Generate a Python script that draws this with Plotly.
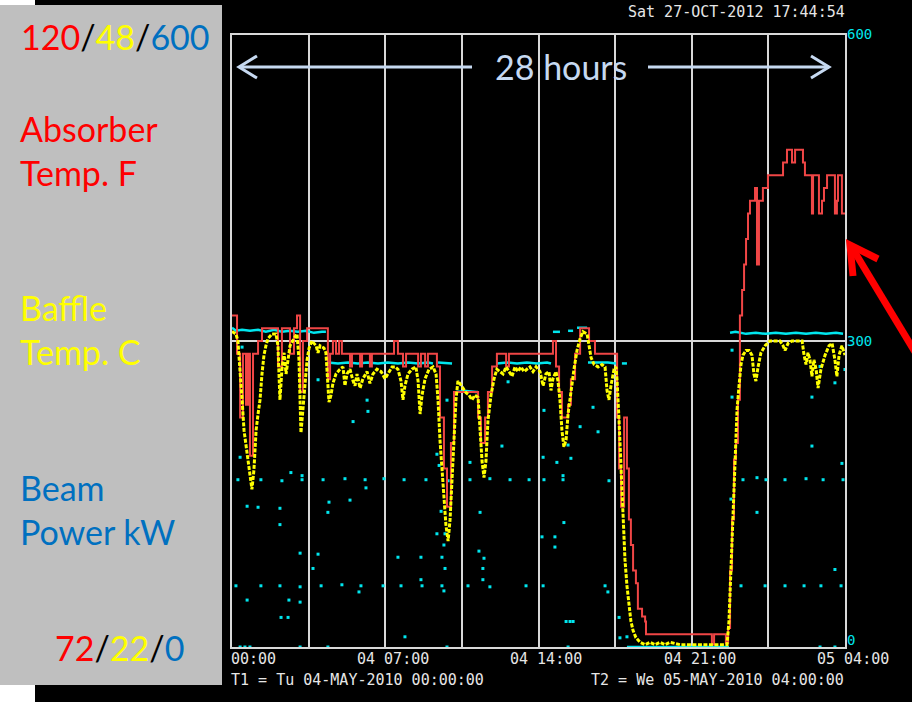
import plotly.graph_objects as go
import pandas as pd

# ---------------- data ----------------
T1 = pd.Timestamp("2010-05-04 00:00:00")
T2 = pd.Timestamp("2010-05-05 04:00:00")

# Absorber temperature, degF (step trace), hours after T1
absorber_hours = [0.00, 0.23, 0.37, 0.50, 0.64, 0.73, 0.82, 0.96, 1.19, 1.37, 2.10, 2.28, 2.65, 2.83,
                  2.97, 3.11, 3.24, 3.43, 4.38, 4.48, 4.61, 4.75, 4.89, 5.02, 5.39, 5.48, 5.85, 5.94,
                  6.30, 6.39, 7.40, 7.58, 7.81, 7.95, 8.50, 8.63, 8.82, 8.95, 9.36, 9.50, 9.68, 9.82,
                  10.00, 10.14, 11.24, 11.37, 11.56, 11.69, 11.88, 12.10, 12.52, 12.65, 14.66, 14.80,
                  14.94, 15.07, 15.35, 15.48, 15.67, 15.90, 16.31, 16.58, 17.59, 17.68, 17.77, 17.91,
                  18.04, 18.13, 18.22, 18.32, 18.45, 18.54, 18.73, 18.87, 18.91, 21.92, 22.02, 22.56,
                  22.66, 22.75, 22.84, 22.93, 23.02, 23.11, 23.20, 23.30, 23.39, 23.48, 23.57, 23.66,
                  23.89, 23.98, 24.07, 24.25, 24.48, 25.17, 25.35, 25.58, 25.72, 26.08, 26.17, 26.49,
                  26.54, 26.81, 26.95, 27.04, 27.18, 27.54, 27.63, 27.68, 27.86, 28.00]
absorber_temp_f = [98, 95, 90, 95, 91, 95, 87, 95, 96, 97, 94, 97, 95, 97,
                   98, 92, 96, 97, 93, 95, 96, 95, 96, 95, 94, 95, 94, 95,
                   94, 95, 96, 95, 94, 95, 94, 95, 94, 95, 94, 90, 86, 83,
                   88, 92, 90, 88, 90, 92, 94, 95, 94, 95, 96, 94,
                   92, 90, 91, 93, 95, 97, 96, 95, 90, 86, 83, 90,
                   86, 82, 80, 78, 77, 75, 74.4, 74, 73, 72.2, 73, 72.3,
                   73.5, 78, 82, 86.7, 88, 91.4, 98, 100, 102, 104, 106, 107,
                   108, 102, 107, 108, 109, 110, 111, 110, 111, 110, 109, 106,
                   109, 106, 107, 108, 109, 106, 107, 109, 106, 106]

# Baffle temperature, degC
baffle_hours = [0.00, 0.18, 0.27, 0.37, 0.46, 0.55, 0.64, 0.73, 0.82, 0.91, 1.00, 1.10, 1.19, 1.28,
                1.37, 1.46, 1.55, 1.64, 1.83, 2.01, 2.10, 2.15, 2.19, 2.28, 2.38, 2.47, 2.56, 2.65,
                2.83, 2.97, 3.06, 3.11, 3.15, 3.24, 3.33, 3.43, 3.52, 3.65, 3.84, 3.93, 4.02, 4.20,
                4.29, 4.38, 4.43, 4.52, 4.61, 4.75, 4.93, 5.07, 5.16, 5.25, 5.39, 5.53, 5.62, 5.71,
                5.85, 5.98, 6.17, 6.30, 6.44, 6.62, 6.81, 6.99, 7.17, 7.31, 7.45, 7.58, 7.72, 7.81,
                7.90, 8.04, 8.22, 8.40, 8.50, 8.59, 8.68, 8.82, 9.00, 9.18, 9.32, 9.41, 9.50, 9.59,
                9.68, 9.77, 9.87, 9.96, 10.05, 10.14, 10.23, 10.32, 10.41, 10.55, 10.69, 10.83, 10.96,
                11.10, 11.24, 11.33, 11.42, 11.51, 11.60, 11.69, 11.83, 11.97, 12.10, 12.24, 12.38,
                12.52, 12.65, 12.79, 12.93, 13.06, 13.20, 13.34, 13.47, 13.61, 13.75, 13.89, 14.07,
                14.21, 14.34, 14.48, 14.57, 14.66, 14.80, 14.89, 14.98, 15.07, 15.16, 15.26, 15.35,
                15.48, 15.62, 15.76, 15.90, 16.03, 16.22, 16.31, 16.40, 16.54, 16.72, 16.90, 17.04,
                17.13, 17.22, 17.31, 17.45, 17.54, 17.59, 17.68, 17.77, 17.86, 17.95, 18.04, 18.13,
                18.22, 18.32, 18.45, 18.64, 18.87, 19.09, 19.32, 19.55, 19.78, 20.01, 20.46, 20.92,
                21.38, 21.83, 22.29, 22.61, 22.70, 22.79, 22.88, 22.98, 23.07, 23.16, 23.25, 23.34,
                23.48, 23.62, 23.75, 23.84, 23.93, 24.03, 24.16, 24.35, 24.57, 24.80, 25.03, 25.17,
                25.26, 25.40, 25.58, 25.81, 26.04, 26.13, 26.22, 26.31, 26.40, 26.49, 26.58, 26.68,
                26.77, 26.90, 27.09, 27.27, 27.41, 27.54, 27.63, 27.73, 27.86, 28.00]
baffle_temp_c = [35.4, 35.3, 35.0, 33.8, 32.5, 31.2, 30.6, 29.9, 29.3, 28.7, 29.5, 31.2, 31.9, 32.5,
                 33.6, 34.4, 34.8, 35.1, 35.3, 35.3, 34.8, 33.3, 32.5, 33.8, 34.5, 33.6, 34.2, 34.8,
                 35.1, 35.3, 34.2, 32.5, 31.1, 32.1, 33.3, 34.2, 34.7, 35.0, 34.8, 34.5, 34.8, 34.7,
                 34.5, 33.3, 32.4, 32.7, 33.2, 33.6, 33.8, 33.9, 33.1, 33.6, 33.8, 33.3, 33.1, 33.6,
                 33.0, 33.4, 33.7, 33.2, 33.6, 33.8, 33.7, 33.4, 33.7, 33.9, 33.9, 33.8, 33.3, 32.5,
                 33.1, 33.6, 33.8, 33.9, 33.3, 31.9, 32.7, 33.4, 33.8, 33.9, 33.6, 32.5, 30.8, 29.5,
                 28.2, 27.2, 26.5, 27.4, 29.1, 31.2, 32.5, 33.3, 33.2, 33.0, 32.8, 32.7, 32.5,
                 32.7, 32.6, 31.2, 29.9, 29.2, 29.9, 31.6, 32.7, 33.4, 33.8, 33.7, 33.6,
                 33.9, 33.7, 33.5, 33.9, 33.7, 33.9, 33.7, 33.8, 33.9, 33.7, 33.9, 33.7,
                 33.1, 33.6, 33.7, 32.9, 33.4, 33.7, 33.3, 32.5, 31.2, 30.5, 30.8, 31.9,
                 32.9, 33.8, 34.6, 35.1, 35.4, 35.3, 34.8, 34.3, 34.0, 33.9, 34.0, 33.9,
                 32.9, 32.5, 33.1, 33.8, 33.9, 33.3, 31.6, 29.5, 27.4, 25.7, 24.6, 23.8,
                 23.1, 22.7, 22.4, 22.2, 22.1, 22.2, 22.1, 22.2, 22.1, 22.2, 22.1, 22.1,
                 22.1, 22.1, 22.1, 22.1, 23.1, 25.3, 28.2, 30.4, 32.1, 33.1, 34.0, 34.4,
                 34.6, 34.6, 34.4, 33.6, 33.3, 33.9, 34.5, 34.8, 35.0, 35.0, 35.0, 34.8,
                 34.6, 34.9, 35.0, 35.0, 35.0, 34.4, 34.0, 34.5, 34.2, 33.5, 34.2, 33.8,
                 33.0, 33.8, 34.4, 34.8, 34.9, 34.2, 33.5, 34.4, 34.8, 34.4]

# Beam power, kW (main readings; None = gap between runs of samples)
beam_hours = [0.00, 0.18, 0.46, 0.82, 1.19, 1.55, 1.92, 2.28, 2.65, 3.01, 3.38, 3.74, 4.11, 4.29, None,
              4.38, 4.84, 5.30, 5.75, 6.21, 6.67, 7.12, 7.58, 8.04, 8.50, 8.95, 9.18, None,
              9.41, 10.05, None,
              10.23, 10.69, 11.15, 11.24, None,
              12.10, 12.56, 13.02, 13.47, 13.93, 14.39, 14.57, None,
              14.66, 14.98, None, 15.35, 15.58, None, 15.76, 16.22, None,
              16.26, 16.72, 17.17, 17.54, None, 17.81, 18.04, None,
              18.04, 22.70, None,
              22.75, 23.00, 23.48, 23.93, 24.39, 24.84, 25.30, 25.76, 26.22, 26.67, 27.13, 27.59, 27.91]
beam_power_kw = [313, 310, 311, 310, 311, 309, 311, 309, 310, 309, 310, 308, 309, 309, None,
                 279, 278, 279, 278, 279, 278, 279, 278, 279, 278, 279, 278, None,
                 279, 278, None,
                 250, 251, 250, 250, None,
                 278, 279, 278, 279, 278, 279, 278, None,
                 309, 309, None, 310, 310, None, 313, 313, None,
                 279, 279, 279, 278, None, 278, 278, None,
                 0, 0, None,
                 308, 309, 307, 308, 307, 308, 307, 308, 307, 308, 307, 308, 307]

# Beam power, kW: scattered stray readings
stray_hours = [0.27, 1.32, 2.28, 3.20, 4.16, 5.16, 6.08, 6.94, 7.86, 8.86, 9.87, 10.87, 11.78, 12.70,
               13.57, 14.25, 15.12, 17.22, 23.34, 24.39, 25.26, 26.22, 27.00, 27.91,
               0.18, 1.32, 2.19, 3.11, 4.07, 5.02, 5.89, 6.90, 7.72, 8.68, 9.59, 10.78, 11.78, 13.43,
               14.21, 17.04, 23.25, 24.35, 25.26, 26.13, 26.90, 27.82,
               0.46, 3.93, 6.17, 6.21, 5.53, 0.37, 2.69, 3.20, 0.69, 1.19, 2.19, 2.19, 3.11, 0.69,
               2.60, 3.11, 2.24, 2.56, 4.43, 5.39, 4.38, 3.93, 3.70, 5.80, 6.12, 9.36, 9.46, 9.55,
               9.36, 9.73, 9.68, 7.58, 8.63, 9.59, 9.73, 8.63, 9.68, 7.90, 10.87, 11.33, 11.28, 11.51,
               11.46, 11.46, 12.33, 12.61, 9.82, 14.25, 16.49, 15.90, 16.72, 15.35, 14.21, 14.84, 15.12,
               15.48, 15.16, 14.16, 14.75, 14.75, 17.17, 17.68, 17.72, 18.04, 22.79, 23.98, 23.98, 27.54,
               26.49, 27.86, 22.84, 22.84, 26.49, 26.86, 27.54, 28.00, 15.26, 15.44, 15.58,
               0.37, 0.59, 0.82, 3.11, 4.38, 9.82, 15.35, 26.86, 27.54]
stray_kw = [164, 164, 163, 164, 164, 165, 164, 165, 164, 164, 163, 164, 165, 164,
            164, 164, 164, 163, 164, 164, 164, 165, 164, 164,
            60, 60, 60, 59, 60, 61, 60, 60, 60, 60, 60, 60, 59, 60,
            60, 60, 60, 60, 60, 60, 60, 60,
            294, 262, 242, 231, 221, 186, 171, 168, 138, 137, 136, 120, 92, 46,
            46, 44, 29, 29, 142, 144, 132, 91, 77, 54, 156, 189, 178, 133,
            111, 111, 100, 88, 88, 88, 77, 66, 55, 10, 181, 132, 94, 87,
            77, 66, 197, 260, 242, 232, 235, 216, 211, 198, 186, 181, 168,
            185, 122, 108, 108, 98, 54, 29, 9, 10, 145, 166, 132, 76,
            197, 180, 291, 245, 245, 275, 259, 272, 25, 25, 25,
            0, 0, 0, 0, 0, 0, 0, 0, 0]

x_tick_labels = ["00:00", "04 07:00", "04 14:00", "04 21:00", "05 04:00"]
x_tick_hours = [0, 7, 14, 21, 28]
power_ticks = [0, 300, 600]


def to_time(hours):
    return [None if h is None else T1 + pd.Timedelta(hours=h) for h in hours]


# ---------------- layout geometry (pixels -> paper) ----------------
W, H = 912, 702
L, R, T, B = 232, 845, 35, 647


def px(x):
    return (x - L) / (R - L)


def py(y):
    return (B - y) / (B - T)


RED = "#f04646"
YEL = "#ffff00"
CYAN = "#00e6ee"
LBLUE = "#c6d9f1"
WHITE_TXT = "#e6e6e6"
MONO = "DejaVu Sans Mono"
SANS = "Lato"

fig = go.Figure()

fig.add_trace(go.Scatter(x=to_time(absorber_hours), y=absorber_temp_f, yaxis="y2",
                         mode="lines", line=dict(color=RED, width=2, shape="hv"),
                         name="Absorber Temp. F", showlegend=False))
fig.add_trace(go.Scatter(x=to_time(baffle_hours), y=baffle_temp_c, yaxis="y3",
                         mode="lines", line=dict(color=YEL, width=3, dash="4px,1.5px"),
                         name="Baffle Temp. C", showlegend=False))
fig.add_trace(go.Scatter(x=to_time(beam_hours), y=beam_power_kw, yaxis="y",
                         mode="lines", line=dict(color=CYAN, width=2.5), connectgaps=False,
                         name="Beam Power kW", showlegend=False))
fig.add_trace(go.Scatter(x=to_time(stray_hours), y=stray_kw, yaxis="y",
                         mode="markers", marker=dict(color=CYAN, size=3, symbol="square", line=dict(width=0)),
                         name="Beam Power kW", showlegend=False))

shapes = []
# outer decorations: gray legend panel and white corners
shapes.append(dict(type="rect", xref="paper", yref="paper", x0=px(0), x1=px(35), y0=py(0), y1=py(5),
                   fillcolor="white", line=dict(width=0), layer="below"))
shapes.append(dict(type="rect", xref="paper", yref="paper", x0=px(0), x1=px(35), y0=py(685), y1=py(702),
                   fillcolor="white", line=dict(width=0), layer="below"))
shapes.append(dict(type="rect", xref="paper", yref="paper", x0=px(0), x1=px(222), y0=py(5), y1=py(685),
                   fillcolor="#bfbfbf", line=dict(width=0), layer="below"))


def pline(points, color, width):
    path = "M " + " L ".join(f"{px(a):.5f},{py(b):.5f}" for a, b in points)
    return dict(type="path", xref="paper", yref="paper", path=path,
                line=dict(color=color, width=width), layer="above")


# "28 hours" double arrow
shapes.append(pline([(240, 67), (472, 67)], LBLUE, 3))
shapes.append(pline([(257, 56), (239, 67), (257, 78)], LBLUE, 3))
shapes.append(pline([(648, 67), (829, 67)], LBLUE, 3))
shapes.append(pline([(811, 56), (829, 67), (811, 78)], LBLUE, 3))
# red pointer arrow
shapes.append(pline([(915, 352), (851, 246)], "#ff0000", 7))
shapes.append(pline([(853, 276), (850, 245), (878, 259)], "#ff0000", 7))

annotations = []


def ann(text, x, y, size, color, font=SANS, xanchor="left", yanchor="middle", xref="paper", **kw):
    annotations.append(dict(text=text, x=x, y=y, xref=xref, yref="paper", showarrow=False,
                            xanchor=xanchor, yanchor=yanchor, align="left",
                            font=dict(family=font, size=size, color=color), **kw))


def slash_text(parts):
    cols = ["#ff0000", "#ffff00", "#0070c0"]
    segs = [f"<span style='color:{c}'>{p}</span>" for p, c in zip(parts, cols)]
    return "<span style='color:#000000'>/</span>".join(segs)


ann(slash_text(["120", "48", "600"]), px(19), py(37), 34, "#000000")
ann("Absorber<br>Temp. F", px(18), py(150), 34, "#ff0000")
ann("Baffle<br>Temp. C", px(18), py(330), 34, "#ffff00")
ann("Beam<br>Power kW", px(18), py(509), 34, "#0070c0")
ann(slash_text(["72", "22", "0"]), px(53), py(647), 34, "#000000")

ann("28 hours", px(561), py(66), 34, LBLUE, xanchor="center")

ann("Sat 27-OCT-2012 17:44:54", px(847), py(12), 15, WHITE_TXT, font=MONO, xanchor="right")
ann("T1 = Tu " + T1.strftime("%d-%b-%Y %H:%M:%S").upper(), px(229), py(680), 15, WHITE_TXT, font=MONO)
ann("T2 = We " + T2.strftime("%d-%b-%Y %H:%M:%S").upper(), px(846), py(680), 15, WHITE_TXT, font=MONO,
    xanchor="right")

for lab, h in zip(x_tick_labels, x_tick_hours):
    shift = -3 * 9.03 if len(lab) > 5 else 0
    ann(lab, T1 + pd.Timedelta(hours=h), py(659), 15, WHITE_TXT, font=MONO, xref="x",
        xshift=shift - 3)

# right-hand beam power scale labels (0 sits a little above the bottom edge, as in the original)
for v, yp in zip(power_ticks, [640, 341, 34]):
    ann(str(v), px(845), py(yp), 14, CYAN, font=MONO)

fig.update_layout(
    width=W, height=H,
    margin=dict(l=L, r=W - R, t=T, b=H - B, pad=0),
    paper_bgcolor="#000000", plot_bgcolor="#000000",
    showlegend=False,
    shapes=shapes, annotations=annotations,
    xaxis=dict(type="date", range=[T1, T2], tick0=T1, dtick=3.5 * 3600 * 1000,
               showgrid=True, gridcolor="#d8d8d8", gridwidth=2,
               showline=True, linecolor="#d8d8d8", linewidth=2, mirror=True,
               showticklabels=False, ticks="", zeroline=False),
    yaxis=dict(range=[0, 600], tickvals=power_ticks, showticklabels=False,
               showgrid=True, gridcolor="#d8d8d8", gridwidth=2,
               showline=True, linecolor="#d8d8d8", linewidth=2, mirror=True,
               ticks="", zeroline=False),
    yaxis2=dict(range=[72, 120], overlaying="y", visible=False),
    yaxis3=dict(range=[22, 48], overlaying="y", visible=False),
)

fig.write_html("out.html")
